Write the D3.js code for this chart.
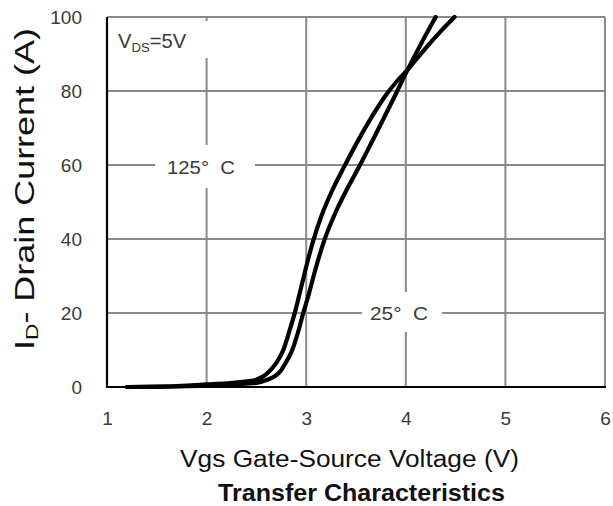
<!DOCTYPE html>
<html>
<head>
<meta charset="utf-8">
<script src="https://cdn.jsdelivr.net/npm/d3@7"></script>
<style>
  html, body { margin: 0; padding: 0; background: #fff; }
  svg { display: block; font-family: Arial, "Liberation Sans", Helvetica, sans-serif; }
</style>
</head>
<body>
<svg id="chart" width="613" height="506"></svg>
<script>
// Transfer characteristics: drain current vs gate-source voltage at two junction temperatures
const xTicks = [1, 2, 3, 4, 5, 6];
const yTicks = [0, 20, 40, 60, 80, 100];

const vgs125 = [1.2, 1.5, 1.8, 2.0, 2.2, 2.4, 2.5, 2.6, 2.7, 2.77, 2.83, 2.89, 2.95, 3.0, 3.07, 3.15, 3.25, 3.39, 3.55, 3.7, 3.79, 3.9, 4.01, 4.2, 4.35, 4.49];
const id125  = [0, 0.1, 0.4, 0.7, 1.0, 1.5, 2.0, 3.5, 6.5, 10, 15, 20.5, 27, 32.5, 39.5, 46, 52.5, 60, 68, 74.8, 78.5, 82.3, 85.5, 91.6, 96.1, 100];

const vgs25 = [1.2, 1.5, 1.8, 2.0, 2.2, 2.4, 2.5, 2.6, 2.7, 2.75, 2.8, 2.86, 2.92, 2.97, 3.02, 3.1, 3.18, 3.3, 3.42, 3.54, 3.66, 3.78, 3.9, 4.01, 4.15, 4.30];
const id25  = [0, 0.05, 0.2, 0.4, 0.6, 0.9, 1.1, 1.9, 3.2, 4.6, 6.8, 10, 15, 20, 24.5, 32.5, 39.5, 47.5, 54, 60, 66.3, 72.7, 79.2, 85.3, 92.6, 100];

const svg = d3.select("#chart");
const plotLeft = 107, plotRight = 605, plotTop = 17, plotBottom = 387;

const x = d3.scaleLinear().domain([1, 6]).range([plotLeft, plotRight]);
const y = d3.scaleLinear().domain([0, 100]).range([plotBottom, plotTop]);

const gridColor = "#8a8a8a";
const textColor = "#3a3a3a";

// stretch a text element horizontally (in its own frame) to a given width
function fitWidth(sel, width, base) {
  const w = sel.node().getBBox().width;
  sel.attr("transform", `${base} scale(${width / w},1)`);
}

// grid lines
const grid = svg.append("g");
grid.selectAll("line.v").data(xTicks.slice(1)).join("line")
  .attr("class", "v")
  .attr("x1", d => x(d)).attr("x2", d => x(d))
  .attr("y1", plotTop).attr("y2", plotBottom)
  .attr("stroke", gridColor).attr("stroke-width", 2);
grid.selectAll("line.h").data(yTicks.slice(1)).join("line")
  .attr("class", "h")
  .attr("x1", plotLeft).attr("x2", plotRight)
  .attr("y1", d => y(d)).attr("y2", d => y(d))
  .attr("stroke", gridColor).attr("stroke-width", 2);

// label backgrounds that break the grid
const boxes = [
  [109, 21, 106, 37],
  [155, 145, 100, 43],
  [362, 292, 80, 40]
];
svg.append("g").selectAll("rect").data(boxes).join("rect")
  .attr("x", d => d[0]).attr("y", d => d[1])
  .attr("width", d => d[2]).attr("height", d => d[3])
  .attr("fill", "#fff");

// annotations
const ann = svg.append("g").attr("fill", textColor);
const vds = ann.append("text").attr("font-size", 20);
vds.append("tspan").text("V");
vds.append("tspan").attr("font-size", 13).attr("dy", 4).text("DS");
vds.append("tspan").attr("dy", -4).text("=5V");
fitWidth(vds, 69, "translate(118,48)");

const t125 = ann.append("text").attr("text-anchor", "middle").attr("font-size", 19)
  .text("125°\u00a0\u00a0C");
fitWidth(t125, 68, "translate(201,174)");
const t25 = ann.append("text").attr("text-anchor", "middle").attr("font-size", 19)
  .text("25°\u00a0\u00a0C");
fitWidth(t25, 58, "translate(399,320)");

// curves
const line = d3.line().x(d => x(d[0])).y(d => y(d[1])).curve(d3.curveMonotoneX);
const series = [d3.zip(vgs125, id125), d3.zip(vgs25, id25)];
svg.append("g").selectAll("path").data(series).join("path")
  .attr("d", line)
  .attr("fill", "none").attr("stroke", "#000")
  .attr("stroke-width", 4.2).attr("stroke-linejoin", "round").attr("stroke-linecap", "round");

// axes
const xAxis = svg.append("g").attr("transform", `translate(0,${plotBottom})`)
  .call(d3.axisBottom(x).tickValues(xTicks).tickSize(0).tickPadding(25).tickFormat(d3.format("d")));
const yAxis = svg.append("g").attr("transform", `translate(${plotLeft},0)`)
  .call(d3.axisLeft(y).tickValues(yTicks).tickSize(0).tickPadding(25).tickFormat(d3.format("d")));
[xAxis, yAxis].forEach(a => {
  a.select(".domain").attr("stroke", "#000").attr("stroke-width", 2.2);
  a.selectAll("text").attr("fill", textColor).attr("font-size", 19)
    .attr("font-family", "Arial, 'Liberation Sans', sans-serif");
});
xAxis.select(".domain").attr("d", `M${plotLeft - 1},0H${plotRight + 1}`);
yAxis.select(".domain").attr("d", `M0,${plotBottom + 1}V${plotTop}`);

// axis titles
const xt = svg.append("text").attr("text-anchor", "middle")
  .attr("font-size", 24).attr("fill", "#111").text("Vgs Gate-Source Voltage (V)");
fitWidth(xt, 339, "translate(349.5,467)");

const yl = svg.append("text").attr("text-anchor", "middle").attr("font-size", 27).attr("fill", "#111");
yl.append("tspan").text("I");
yl.append("tspan").attr("font-size", 17).attr("dy", 4).text("D");
yl.append("tspan").attr("dy", -4).text("- Drain Current (A)");
fitWidth(yl, 322, "translate(34,189) rotate(-90)");

const title = svg.append("text").attr("text-anchor", "middle")
  .attr("font-size", 23).attr("font-weight", "bold").attr("fill", "#111")
  .text("Transfer Characteristics");
fitWidth(title, 287, "translate(361.5,501)");
</script>
</body>
</html>
